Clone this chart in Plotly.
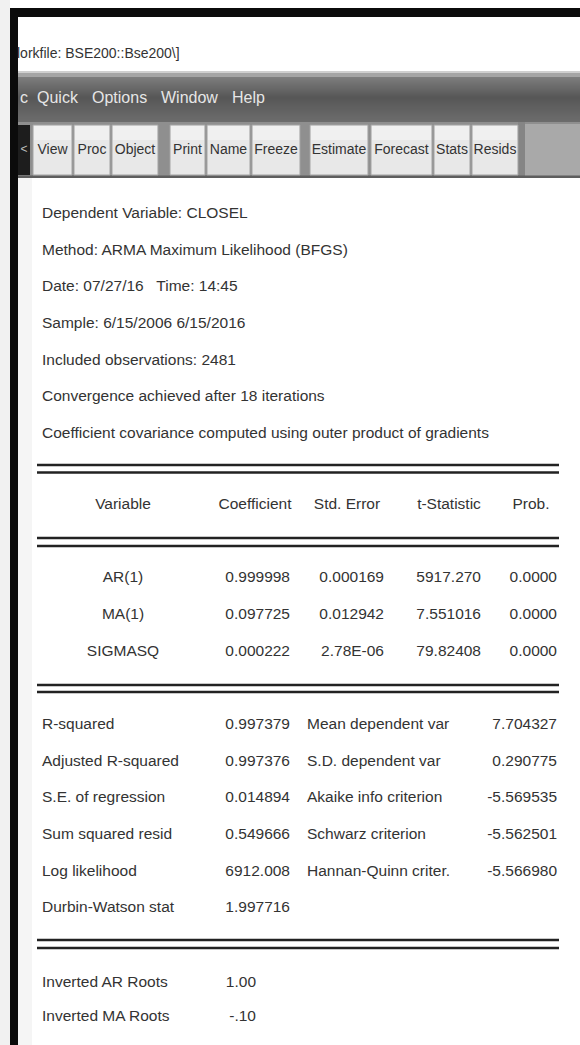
import plotly.graph_objects as go

# ---------------- data ----------------
window_title = "lorkfile: BSE200::Bse200\\]"
menu_items = ["c", "Quick", "Options", "Window", "Help"]
toolbar_buttons = ["View", "Proc", "Object", "Print", "Name", "Freeze",
                   "Estimate", "Forecast", "Stats", "Resids"]

header_lines = [
    "Dependent Variable: CLOSEL",
    "Method: ARMA Maximum Likelihood (BFGS)",
    "Date: 07/27/16   Time: 14:45",
    "Sample: 6/15/2006 6/15/2016",
    "Included observations: 2481",
    "Convergence achieved after 18 iterations",
    "Coefficient covariance computed using outer product of gradients",
]

columns = ["Variable", "Coefficient", "Std. Error", "t-Statistic", "Prob."]
variables = ["AR(1)", "MA(1)", "SIGMASQ"]
coefficients = ["0.999998", "0.097725", "0.000222"]
std_errors = ["0.000169", "0.012942", "2.78E-06"]
t_statistics = ["5917.270", "7.551016", "79.82408"]
probabilities = ["0.0000", "0.0000", "0.0000"]

stat_labels_left = ["R-squared", "Adjusted R-squared", "S.E. of regression",
                    "Sum squared resid", "Log likelihood", "Durbin-Watson stat"]
stat_values_left = ["0.997379", "0.997376", "0.014894", "0.549666",
                    "6912.008", "1.997716"]
stat_labels_right = ["Mean dependent var", "S.D. dependent var",
                     "Akaike info criterion", "Schwarz criterion",
                     "Hannan-Quinn criter."]
stat_values_right = ["7.704327", "0.290775", "-5.569535", "-5.562501",
                     "-5.566980"]

root_labels = ["Inverted AR Roots", "Inverted MA Roots"]
root_values = ["1.00", "-.10"]

# ---------------- layout / style ----------------
W, H = 580, 1045
FONT = "Liberation Sans Narrow, Arial Narrow, Liberation Sans, Arial, sans-serif"
TXT = "#333333"
BODY = 15.5

menu_x = [20, 37, 92, 161, 232]
button_edges = [(33, 72), (74, 110), (112, 158), (170, 205), (207, 250),
                (252, 300), (310, 368), (371, 432), (434, 470), (472, 518)]

fig = go.Figure()
shapes = []


def rect(x0, y0, x1, y1, color, line=None, lw=0):
    shapes.append(dict(type="rect", xref="x", yref="y", x0=x0, x1=x1, y0=y0, y1=y1,
                       fillcolor=color, line=dict(width=lw, color=line or color),
                       layer="below"))


def hline(y, x0=37, x1=559, color="#222222", width=2.5):
    shapes.append(dict(type="line", xref="x", yref="y", x0=x0, x1=x1, y0=y, y1=y,
                       line=dict(color=color, width=width), layer="above"))


def texts(xs, ys, labels, pos, size=BODY, color=TXT):
    fig.add_trace(go.Scatter(
        x=xs, y=ys, text=[s.replace("  ", "\u00a0\u00a0") for s in labels],
        mode="text", textposition=pos, cliponaxis=False, hoverinfo="skip",
        showlegend=False, textfont=dict(family=FONT, size=size, color=color)))


# background pieces
rect(0, 0, W, H, "#ffffff")
rect(0, 0, 10, H, "#f1f1f1")
rect(18, 178, 32, H, "#f5f5f5")
# black frame
rect(10, 8, 18, H, "#0b0b0b")
rect(10, 8, W, 17, "#0b0b0b")
# title bar separator
rect(18, 71, W, 73, "#cfcfcf")


# menu bar gradient
def menu_gray(y):
    if y < 77:
        return 165
    if y < 97:
        return int(125 - (y - 77) * 1.9)
    return int(87 + (y - 97) * 0.9)


for y in range(73, 122):
    g = menu_gray(y)
    rect(18, y, W, y + 1.05, "rgb(%d,%d,%d)" % (g, g, g))

# toolbar
rect(18, 122, W, 178, "#8f8f8f")
rect(518, 122, 525, 178, "#858585")
rect(525, 124, W, 176, "#a9a9a9")
rect(18, 175.5, W, 178, "#5e5e5e")
rect(18, 125, 30, 175, "#1d1d1d")
for (x0, x1) in button_edges:
    rect(x0, 125, x1, 175, "#e8e8e8", line="#a3a3a3", lw=1)
    rect(x0 + 1, 126, x1 - 1, 140, "#f0f0f0")

# double rules
for (a, b) in [(465, 472.5), (538, 546), (685, 692), (940, 948)]:
    hline(a)
    hline(b)

# ---------------- text ----------------
texts([17], [54], [window_title], "middle right", size=14)
texts(menu_x, [99] * len(menu_items), menu_items, "middle right", size=16,
      color="#e6e6e6")
texts([(a + b) / 2 for a, b in button_edges], [150] * len(toolbar_buttons),
      toolbar_buttons, "middle center", size=14)
texts([24], [150], ["<"], "middle center", size=12, color="#bdbdbd")

# header block
texts([42] * len(header_lines), [214 + 36.7 * i for i in range(len(header_lines))],
      header_lines, "middle right")

# coefficient table header
col_centers = [123, 255, 347, 449, 531]
texts(col_centers, [505] * len(columns), columns, "middle center")

row_y = [578 + 37 * i for i in range(len(variables))]
texts([123] * len(variables), row_y, variables, "middle center")
texts([290] * len(variables), row_y, coefficients, "middle left")
texts([384] * len(variables), row_y, std_errors, "middle left")
texts([481] * len(variables), row_y, t_statistics, "middle left")
texts([557] * len(variables), row_y, probabilities, "middle left")

# summary statistics
sy = [725 + 36.7 * i for i in range(len(stat_labels_left))]
texts([42] * len(stat_labels_left), sy, stat_labels_left, "middle right")
texts([290] * len(stat_values_left), sy, stat_values_left, "middle left")
texts([307] * len(stat_labels_right), sy[:len(stat_labels_right)],
      stat_labels_right, "middle right")
texts([557] * len(stat_values_right), sy[:len(stat_values_right)],
      stat_values_right, "middle left")

# inverted roots
ry = [983, 1017]
texts([42] * len(root_labels), ry, root_labels, "middle right")
texts([256] * len(root_values), ry, root_values, "middle left")

fig.update_layout(
    width=W, height=H,
    margin=dict(l=0, r=0, t=0, b=0),
    paper_bgcolor="#ffffff", plot_bgcolor="#ffffff",
    shapes=shapes,
    xaxis=dict(range=[0, W], visible=False, fixedrange=True),
    yaxis=dict(range=[H, 0], visible=False, fixedrange=True),
    showlegend=False,
)

fig.write_html(
    "out.html",
    config={"displayModeBar": False},
    post_script="document.body.style.margin='0px';document.body.style.overflow='hidden';",
)
